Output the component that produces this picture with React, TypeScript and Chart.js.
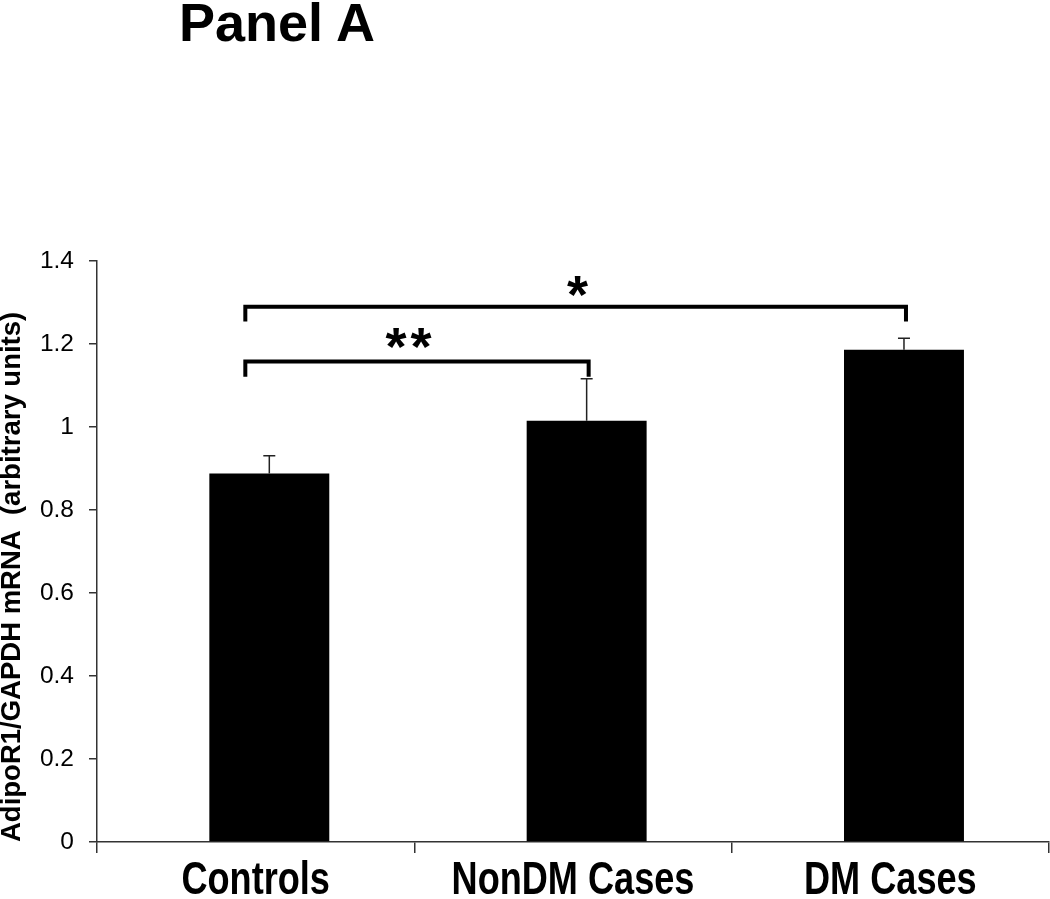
import React, { useEffect, useRef } from 'react';
import { Chart, registerables } from 'chart.js';

Chart.register(...registerables);

// ---- data ----
const PANEL_TITLE = 'Panel A';
const CATEGORIES = ['Controls', 'NonDM Cases', 'DM Cases'];
const MEANS = [0.888, 1.015, 1.186];
const SEM = [0.043, 0.101, 0.028];
const Y_TICK_LABELS = ['0', '0.2', '0.4', '0.6', '0.8', '1', '1.2', '1.4'];
const Y_TITLE = 'AdipoR1/GAPDH mRNA  (arbitrary units)';
const BRACKET_PAIRS = [
  [0, 2],
  [0, 1],
];
const BRACKET_LABELS = ['*', '**'];
const BRACKET_LEVELS = [1.29, 1.158];
const BRACKET_LEG_ENDS = [1.254, 1.121];

// ---- styles ----
const FONT = "'Liberation Sans', Arial, Helvetica, sans-serif";
const AXIS_COLOR = '#333333';
const BAR_SHIFT = 0.043; // fraction of category width
const LEFT_LEG_OFFSET = 0.2; // fraction of bar width, left of first bar centre
const LABEL_AT = [0.503, 0.4755];
const LABEL_GAP = [7.5, 10];
const STAR_FONT = 54;
const STAR_SPACING = 25;
const XLABEL_FONT = 46;
const XLABEL_SQUEEZE = 0.785;
const XLABEL_BASELINE = 52; // px below the x axis

const shiftPlugin = {
  id: 'barShift',
  afterDatasetsUpdate(chart: any) {
    const x = chart.scales.x;
    const w = x.width / CATEGORIES.length;
    const meta = chart.getDatasetMeta(0);
    meta.data.forEach((el: any, i: number) => {
      el.x = x.getPixelForValue(i) + BAR_SHIFT * w;
    });
  },
};

const xLabelPlugin = {
  id: 'xLabels',
  afterDraw(chart: any) {
    const { ctx } = chart;
    const x = chart.scales.x;
    ctx.save();
    ctx.fillStyle = '#000';
    ctx.font = `bold ${XLABEL_FONT}px ${FONT}`;
    ctx.textAlign = 'center';
    ctx.textBaseline = 'alphabetic';
    const yb = chart.chartArea.bottom + XLABEL_BASELINE;
    CATEGORIES.forEach((label, i) => {
      const cx = x.getPixelForValue(i);
      ctx.save();
      ctx.translate(cx, yb);
      ctx.scale(XLABEL_SQUEEZE, 1);
      ctx.fillText(label, 0, 0);
      ctx.restore();
    });
    ctx.restore();
  },
};

const errorBarPlugin = {
  id: 'errorBars',
  afterDatasetsDraw(chart: any) {
    const { ctx } = chart;
    const y = chart.scales.y;
    const meta = chart.getDatasetMeta(0);
    ctx.save();
    ctx.strokeStyle = '#222222';
    ctx.lineWidth = 1.5;
    meta.data.forEach((el: any, i: number) => {
      const base = y.getPixelForValue(MEANS[i]);
      const top = y.getPixelForValue(MEANS[i] + SEM[i]);
      ctx.beginPath();
      ctx.moveTo(el.x, base);
      ctx.lineTo(el.x, top);
      ctx.moveTo(el.x - 6, top);
      ctx.lineTo(el.x + 6, top);
      ctx.stroke();
    });
    ctx.restore();
  },
};

const bracketPlugin = {
  id: 'brackets',
  afterDatasetsDraw(chart: any) {
    const { ctx } = chart;
    const y = chart.scales.y;
    const meta = chart.getDatasetMeta(0);
    ctx.save();
    ctx.strokeStyle = '#000';
    ctx.fillStyle = '#000';
    ctx.lineWidth = 4;
    ctx.lineJoin = 'miter';
    ctx.lineCap = 'butt';
    BRACKET_PAIRS.forEach((pair, k) => {
      const a = meta.data[pair[0]];
      const b = meta.data[pair[1]];
      const x1 = a.x - LEFT_LEG_OFFSET * a.width;
      const x2 = b.x + 2;
      const yl = y.getPixelForValue(BRACKET_LEVELS[k]);
      const yd = y.getPixelForValue(BRACKET_LEG_ENDS[k]);
      ctx.beginPath();
      ctx.moveTo(x1, yd);
      ctx.lineTo(x1, yl);
      ctx.lineTo(x2, yl);
      ctx.lineTo(x2, yd);
      ctx.stroke();
      ctx.font = `bold ${STAR_FONT}px ${FONT}`;
      ctx.textAlign = 'center';
      ctx.textBaseline = 'alphabetic';
      const label = BRACKET_LABELS[k];
      const chars = label.split('');
      const m = ctx.measureText(chars[0]);
      const bottom = yl - 2 - LABEL_GAP[k];
      const baseline = bottom - m.actualBoundingBoxDescent;
      const cx = x1 + (x2 - x1) * LABEL_AT[k];
      chars.forEach((c, j) => {
        const off = (j - (chars.length - 1) / 2) * STAR_SPACING;
        ctx.fillText(c, cx + off, baseline);
      });
    });
    ctx.restore();
  },
};

export default function App() {
  const ref = useRef<HTMLCanvasElement | null>(null);

  useEffect(() => {
    if (!ref.current) return;
    const chart = new Chart(ref.current, {
      type: 'bar',
      data: {
        labels: CATEGORIES,
        datasets: [
          {
            data: MEANS,
            backgroundColor: '#000000',
            borderWidth: 0,
            barPercentage: 0.378,
            categoryPercentage: 1,
          },
        ],
      },
      options: {
        responsive: true,
        maintainAspectRatio: false,
        animation: false,
        layout: { padding: { top: 261, right: 1, left: 0, bottom: 0 } },
        plugins: {
          legend: { display: false },
          tooltip: { enabled: false },
          title: { display: false },
        },
        scales: {
          x: {
            grid: {
              display: true,
              drawOnChartArea: false,
              offset: true,
              tickLength: 11,
              color: AXIS_COLOR,
              lineWidth: 1.5,
            },
            border: { display: true, color: AXIS_COLOR, width: 1.5 },
            ticks: { display: false },
            afterFit: (s: any) => {
              s.height = 57;
            },
          },
          y: {
            min: 0,
            max: 1.4,
            ticks: {
              stepSize: 0.2,
              callback: (_v: any, i: number) => Y_TICK_LABELS[i],
              color: '#000',
              font: { family: FONT, size: 24.5 },
              padding: 15,
            },
            grid: {
              drawOnChartArea: false,
              tickLength: 8,
              color: AXIS_COLOR,
              lineWidth: 1.5,
            },
            border: { display: true, color: AXIS_COLOR, width: 1.5 },
            title: {
              display: true,
              text: Y_TITLE,
              align: 'start',
              color: '#000',
              font: { family: FONT, size: 27.5, weight: 'bold', lineHeight: 0.9 },
              padding: 0,
            },
            afterFit: (s: any) => {
              s.width = 97;
            },
          },
        },
      } as any,
      plugins: [shiftPlugin, errorBarPlugin, bracketPlugin, xLabelPlugin],
    });
    return () => chart.destroy();
  }, []);

  return (
    <div style={{ position: 'absolute', left: 0, top: 0, width: 1050, height: 899, background: '#fff' }}>
      <div
        style={{
          position: 'absolute',
          left: 179,
          top: -5,
          fontFamily: FONT,
          fontWeight: 'bold',
          fontSize: 54,
          lineHeight: 1,
          color: '#000',
          whiteSpace: 'nowrap',
        }}
      >
        {PANEL_TITLE}
      </div>
      <canvas ref={ref} style={{ position: 'absolute', left: 0, top: 0, width: 1050, height: 899 }} />
    </div>
  );
}
